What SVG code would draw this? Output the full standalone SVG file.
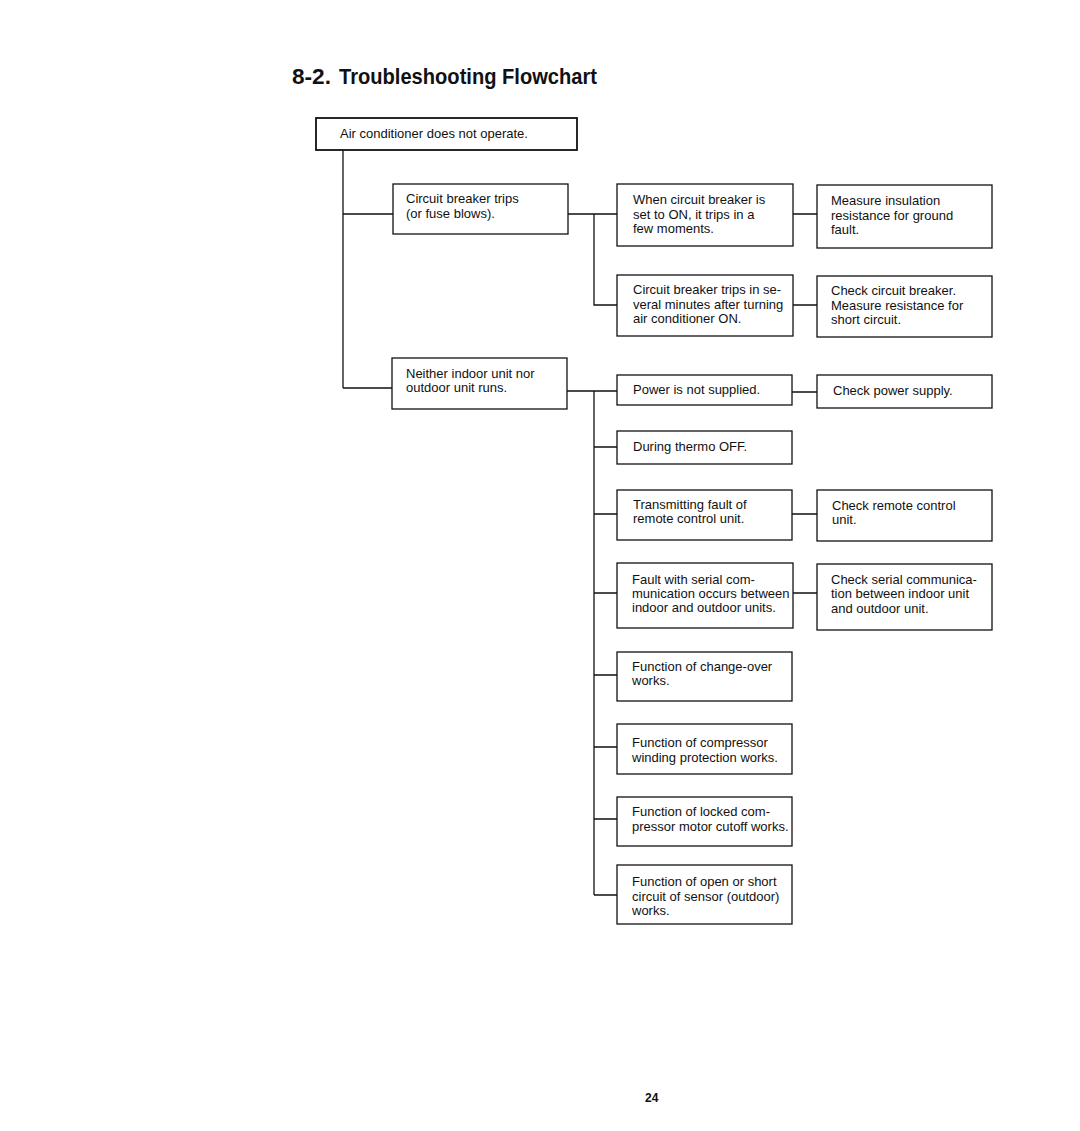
<svg xmlns="http://www.w3.org/2000/svg" width="1080" height="1131" viewBox="0 0 1080 1131">
<style>
.bx{fill:#fff;stroke:#111;stroke-width:1.3}
.top{fill:#fff;stroke:#111;stroke-width:1.8}
.t{font-family:"Liberation Sans",Arial,sans-serif;font-size:13px;fill:#111}
.c{stroke:#111;stroke-width:1.3;fill:none}
.h{font-family:"Liberation Sans",Arial,sans-serif;font-size:22px;font-weight:bold;fill:#111}
</style>
<rect width="1080" height="1131" fill="#fff"/>
<text class="h" x="292" y="84" textLength="39" lengthAdjust="spacingAndGlyphs">8-2.</text>
<text class="h" x="339" y="84" textLength="258" lengthAdjust="spacingAndGlyphs">Troubleshooting Flowchart</text>
<g id="connectors">
<path class="c" d="M343,150V388M343,214H393M343,388H392"/>
<path class="c" d="M568,214H617M594,214V305H617M793,214H817M793,305H817"/>
<path class="c" d="M567,391H617M594,391V895M594,447H617M594,514H617M594,593H617M594,675H617M594,747H617M594,819H617M594,895H617"/>
<path class="c" d="M792,392H817M792,514H817M793,593H817"/>
</g>
<g id="n_top"><rect class="top" x="316" y="118" width="261" height="32"/><text class="t" x="340" y="138">Air conditioner does not operate.</text></g>
<g id="n_cb"><rect class="bx" x="393" y="184" width="175" height="50"/><text class="t" x="406" y="203">Circuit breaker trips</text><text class="t" x="406" y="218">(or fuse blows).</text></g>
<g id="n_when"><rect class="bx" x="617" y="184" width="176" height="62"/><text class="t" x="633" y="204">When circuit breaker is</text><text class="t" x="633" y="219">set to ON, it trips in a</text><text class="t" x="633" y="233">few moments.</text></g>
<g id="n_measure"><rect class="bx" x="817" y="185" width="175" height="63"/><text class="t" x="831" y="205">Measure insulation</text><text class="t" x="831" y="220">resistance for ground</text><text class="t" x="831" y="234">fault.</text></g>
<g id="n_cbtrips"><rect class="bx" x="617" y="275" width="176" height="61"/><text class="t" x="633" y="294">Circuit breaker trips in se-</text><text class="t" x="633" y="309">veral minutes after turning</text><text class="t" x="633" y="323">air conditioner ON.</text></g>
<g id="n_checkcb"><rect class="bx" x="817" y="276" width="175" height="61"/><text class="t" x="831" y="295">Check circuit breaker.</text><text class="t" x="831" y="310">Measure resistance for</text><text class="t" x="831" y="324">short circuit.</text></g>
<g id="n_neither"><rect class="bx" x="392" y="358" width="175" height="51"/><text class="t" x="406" y="378">Neither indoor unit nor</text><text class="t" x="406" y="392">outdoor unit runs.</text></g>
<g id="n_power"><rect class="bx" x="617" y="375" width="175" height="30"/><text class="t" x="633" y="394">Power is not supplied.</text></g>
<g id="n_checkpower"><rect class="bx" x="817" y="375" width="175" height="33"/><text class="t" x="833" y="395">Check power supply.</text></g>
<g id="n_thermo"><rect class="bx" x="617" y="431" width="175" height="33"/><text class="t" x="633" y="451">During thermo OFF.</text></g>
<g id="n_transmit"><rect class="bx" x="617" y="490" width="175" height="50"/><text class="t" x="633" y="509">Transmitting fault of</text><text class="t" x="633" y="523">remote control unit.</text></g>
<g id="n_checkremote"><rect class="bx" x="817" y="490" width="175" height="51"/><text class="t" x="832" y="510">Check remote control</text><text class="t" x="832" y="524">unit.</text></g>
<g id="n_serial"><rect class="bx" x="617" y="563" width="176" height="65"/><text class="t" x="632" y="584">Fault with serial com-</text><text class="t" x="632" y="598">munication occurs between</text><text class="t" x="632" y="612">indoor and outdoor units.</text></g>
<g id="n_checkserial"><rect class="bx" x="817" y="564" width="175" height="66"/><text class="t" x="831" y="584">Check serial communica-</text><text class="t" x="831" y="598">tion between indoor unit</text><text class="t" x="831" y="613">and outdoor unit.</text></g>
<g id="n_changeover"><rect class="bx" x="617" y="652" width="175" height="49"/><text class="t" x="632" y="671">Function of change-over</text><text class="t" x="632" y="685">works.</text></g>
<g id="n_winding"><rect class="bx" x="617" y="724" width="175" height="50"/><text class="t" x="632" y="747">Function of compressor</text><text class="t" x="632" y="762">winding protection works.</text></g>
<g id="n_locked"><rect class="bx" x="617" y="797" width="175" height="49"/><text class="t" x="632" y="816">Function of locked com-</text><text class="t" x="632" y="831">pressor motor cutoff works.</text></g>
<g id="n_sensor"><rect class="bx" x="617" y="865" width="175" height="59"/><text class="t" x="632" y="886">Function of open or short</text><text class="t" x="632" y="901">circuit of sensor (outdoor)</text><text class="t" x="632" y="915">works.</text></g>
<text x="645" y="1102" font-family="Liberation Sans,Arial,sans-serif" font-size="12" font-weight="bold" fill="#111">24</text>
</svg>
